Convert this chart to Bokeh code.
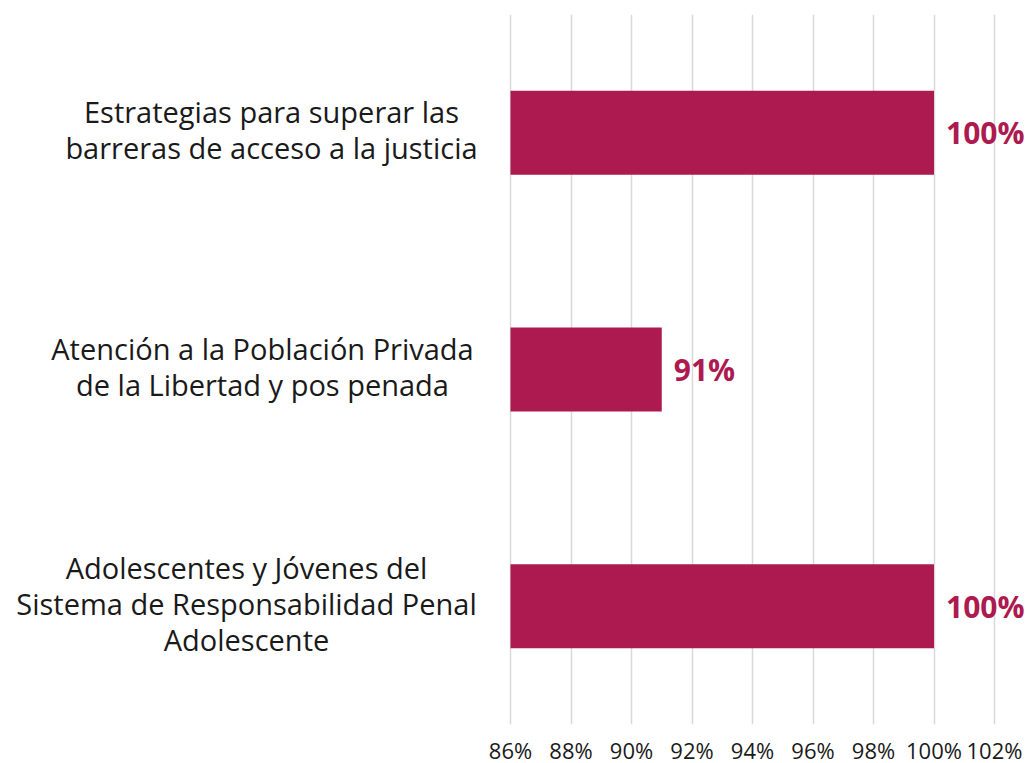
from bokeh.plotting import figure
from bokeh.models import ColumnDataSource, LabelSet, FactorRange, FixedTicker, CustomJSTickFormatter
from bokeh.core.properties import value
from bokeh.embed import file_html
from bokeh.resources import INLINE

categories = [
    "Estrategias para superar las\nbarreras de acceso a la justicia",
    "Atención a la Población Privada\nde la Libertad y pos penada",
    "Adolescentes y Jóvenes del\nSistema de Responsabilidad Penal\nAdolescente",
]
values = [100, 91, 100]
value_labels = ["100%", "91%", "100%"]
tick_values = [86, 88, 90, 92, 94, 96, 98, 100, 102]

BAR = "#AD1A4F"
FONT = "Open Sans"
TEXT = "#1a1a1a"

axis_min, axis_max = 86, 102
px_per_unit = 30.25           # pixels per percentage point
left_px, right_px = 510, 34   # space left of 86% and right of 102%
frame_w = 1028
frame_h = 710
x_start = axis_min - left_px / px_per_unit
x_end = axis_max + right_px / px_per_unit

p = figure(
    y_range=FactorRange(factors=categories[::-1], range_padding=0),
    x_range=(x_start, x_end),
    frame_width=frame_w, frame_height=frame_h,
    min_border_left=0, min_border_right=0, min_border_top=14, min_border_bottom=5,
    output_backend="svg", toolbar_location=None,
)
p.outline_line_color = None
p.background_fill_color = "white"

src = ColumnDataSource(dict(cat=categories, val=values, lab=value_labels,
                            base=[axis_min] * len(values)))
p.hbar(y="cat", left="base", right="val", height=0.355, source=src,
       fill_color=BAR, line_color=None)

p.yaxis.visible = False
p.ygrid.grid_line_color = None
p.xgrid.grid_line_color = "#D9D9D9"
p.xgrid.grid_line_width = 1.5
p.xaxis.ticker = FixedTicker(ticks=tick_values)
p.xaxis.formatter = CustomJSTickFormatter(code="return tick + '%';")
p.xaxis.axis_line_color = None
p.xaxis.major_tick_line_color = None
p.xaxis.minor_tick_line_color = None
p.xaxis.major_label_text_font = FONT
p.xaxis.major_label_text_font_size = "22px"
p.xaxis.major_label_text_color = TEXT
p.xaxis.major_label_standoff = 4

p.add_layout(LabelSet(x="val", y="cat", text="lab", source=src, x_offset=12,
                      text_baseline="middle", text_align="left",
                      text_font=value(FONT), text_font_style="bold",
                      text_font_size="30px", text_color=BAR))

# category labels: each line centred within its block
block_centers_px = [271, 262, 246]  # horizontal centre of each label block (px from left)
line_step = 36
rows = dict(cat=[], x=[], line=[], dy=[])
for cat, cpx in zip(categories, block_centers_px):
    lines = cat.split("\n")
    n = len(lines)
    for i, ln in enumerate(lines):
        rows["cat"].append(cat)
        rows["x"].append(x_start + cpx / px_per_unit)
        rows["line"].append(ln)
        rows["dy"].append(((n - 1) / 2 - i) * line_step + 3)
src2 = ColumnDataSource(rows)
p.add_layout(LabelSet(x="x", y="cat", text="line", source=src2, y_offset="dy",
                      text_baseline="middle", text_align="center",
                      text_font=value(FONT), text_font_size="29px",
                      text_color=TEXT))

open("out.html", "w").write(file_html(p, INLINE))
